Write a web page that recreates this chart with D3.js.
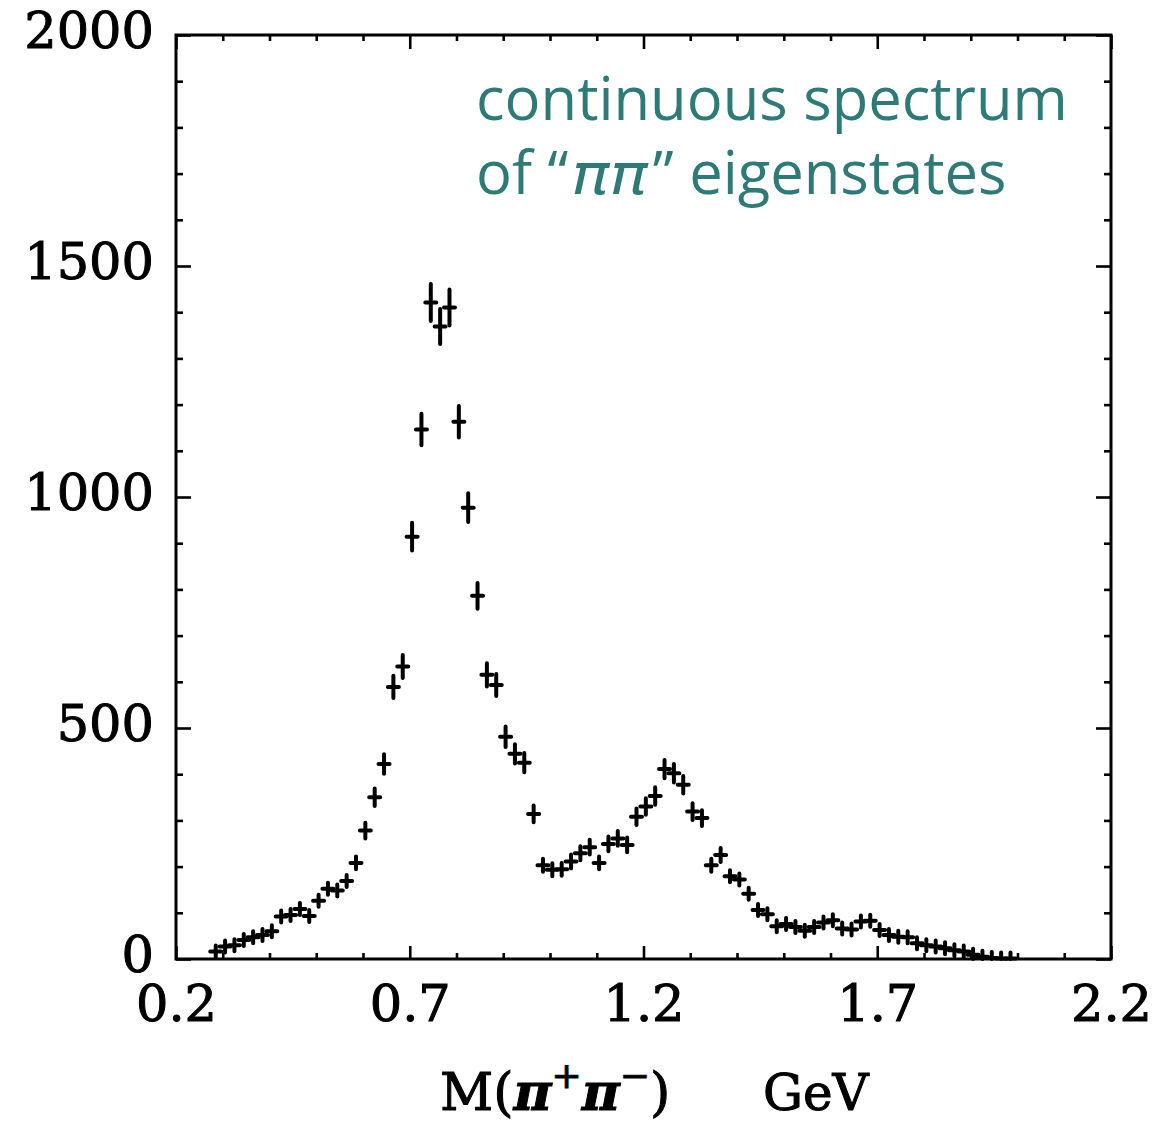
<!DOCTYPE html>
<html>
<head>
<meta charset="utf-8">
<script src="https://cdn.jsdelivr.net/npm/d3@7"></script>
<style>
  html, body { margin: 0; padding: 0; background: #fff; }
  svg { display: block; }
</style>
</head>
<body>
<svg id="chart" width="1171" height="1121"></svg>
<script>
// ---- data ----
const massBins = [0.285,0.305,0.325,0.345,0.365,0.385,0.405,0.425,0.445,0.465,0.485,0.505,0.525,0.545,0.565,0.585,
  0.605,0.625,0.645,0.665,0.685,0.705,0.725,0.745,0.765,0.785,0.805,0.825,0.845,0.865,0.885,0.905,0.925,0.945,0.965,0.985,
  1.005,1.025,1.045,1.065,1.085,1.105,1.125,1.145,1.165,1.185,1.205,1.225,1.245,1.265,1.285,1.305,1.325,1.345,1.365,1.385,
  1.405,1.425,1.445,1.465,1.485,1.505,1.525,1.545,1.565,1.585,1.605,1.625,1.645,1.665,1.685,1.705,1.725,1.745,1.765,1.785,
  1.805,1.825,1.845,1.865,1.885,1.905,1.925,1.945,1.965,1.985];
const counts = [16,27,30,41,47,52,60,92,95,108,93,126,152,148,169,208,
  278,350,422,589,633,914,1146,1421,1369,1410,1163,977,786,615,593,481,444,425,314,203,
  193,194,211,229,242,208,249,261,247,308,330,353,411,402,377,319,305,203,225,179,
  172,141,106,97,71,76,69,61,69,79,84,66,64,81,83,63,52,48,47,34,
  30,27,23,19,16,9,5,2,1,1];
const errors = [4,5,5,6,7,7,8,10,10,10,10,11,12,12,13,14,
  17,19,21,24,25,30,34,40,38,39,34,31,28,25,24,22,21,21,18,14,
  14,14,15,15,16,14,16,16,16,18,18,19,20,20,19,18,17,14,15,13,
  13,12,10,10,8,9,8,8,8,9,9,8,8,9,9,8,7,7,7,6,
  5,5,5,4,4,3,2,1,1,1];
const xTickValues = [0.2,0.7,1.2,1.7,2.2];
const xTickLabels = ["0.2","0.7","1.2","1.7","2.2"];
const xMinorTicks = [0.3,0.4,0.5,0.6,0.8,0.9,1.0,1.1,1.3,1.4,1.5,1.6,1.8,1.9,2.0,2.1];
const yTickValues = [0,500,1000,1500,2000];
const yTickLabels = ["0","500","1000","1500","2000"];
const yMinorTicks = [100,200,300,400,600,700,800,900,1100,1200,1300,1400,1600,1700,1800,1900];

// ---- layout ----
const svg = d3.select("#chart");
const L = 176, R = 1111, T = 35, B = 959;
const x = d3.scaleLinear().domain([0.2, 2.2]).range([L, R]);
const y = d3.scaleLinear().domain([0, 2000]).range([B, T]);
const serif = "'DejaVu Serif', serif";

svg.append("rect").attr("width",1171).attr("height",1121).attr("fill","#fff");

function styleAxis(g){
  g.select(".domain").remove();
  g.selectAll(".tick line").attr("stroke","#000").attr("stroke-width",2.6);
  g.selectAll(".tick text").attr("font-family",serif).attr("font-size",51).attr("fill","#000")
    .attr("stroke","#000").attr("stroke-width",1);
}

// bottom
svg.append("g").attr("transform",`translate(0,${B})`)
  .call(d3.axisBottom(x).tickValues(xTickValues).tickSize(-13).tickPadding(26)
    .tickFormat((d,i)=>xTickLabels[i])).call(styleAxis);
svg.append("g").attr("transform",`translate(0,${B})`)
  .call(d3.axisBottom(x).tickValues(xMinorTicks).tickSize(-6).tickFormat("")).call(styleAxis);
// top
svg.append("g").attr("transform",`translate(0,${T})`)
  .call(d3.axisTop(x).tickValues(xTickValues).tickSize(-14).tickFormat("")).call(styleAxis);
svg.append("g").attr("transform",`translate(0,${T})`)
  .call(d3.axisTop(x).tickValues(xMinorTicks).tickSize(-6).tickFormat("")).call(styleAxis);
// left
const yAx = svg.append("g").attr("transform",`translate(${L},0)`)
  .call(d3.axisLeft(y).tickValues(yTickValues).tickSize(-15).tickPadding(22)
    .tickFormat((d,i)=>yTickLabels[i])).call(styleAxis);
yAx.selectAll(".tick text").attr("dy","0.24em");
svg.append("g").attr("transform",`translate(${L},0)`)
  .call(d3.axisLeft(y).tickValues(yMinorTicks).tickSize(-7).tickFormat("")).call(styleAxis);
// right
svg.append("g").attr("transform",`translate(${R},0)`)
  .call(d3.axisRight(y).tickValues(yTickValues).tickSize(-15).tickFormat("")).call(styleAxis);
svg.append("g").attr("transform",`translate(${R},0)`)
  .call(d3.axisRight(y).tickValues(yMinorTicks).tickSize(-7).tickFormat("")).call(styleAxis);

// frame
svg.append("rect").attr("x",L).attr("y",T).attr("width",R-L).attr("height",B-T)
  .attr("fill","none").attr("stroke","#000").attr("stroke-width",3);

// ---- data points ----
const pts = massBins.map((m,i)=>({m, c:counts[i], e:errors[i]}));
const g = svg.append("g").attr("stroke","#000").attr("stroke-linecap","round");
g.selectAll("path.pt").data(pts).join("path").attr("class","pt")
  .attr("fill","none").attr("stroke-width",4)
  .attr("d", d=>{
    const cx = x(d.m), cy = y(d.c);
    const top = Math.min(y(d.c + d.e), cy - 6);
    const bot = Math.min(Math.max(y(d.c - d.e), cy + 6), B);
    return `M${cx-5.5},${cy}H${cx+5.5}M${cx},${top}V${bot}`;
  });

// ---- axis title ----
const xt = svg.append("text").attr("font-family",serif).attr("font-size",52).attr("fill","#000")
  .attr("stroke","#000").attr("stroke-width",1).attr("y",1110);
xt.append("tspan").attr("x",440).text("M(");
xt.append("tspan").attr("font-style","italic").attr("font-weight","bold").text("π");
xt.append("tspan").attr("font-size",36).attr("dy",-22).text("+");
xt.append("tspan").attr("font-style","italic").attr("font-weight","bold").attr("dy",22).text("π");
xt.append("tspan").attr("font-size",36).attr("dy",-22).text("−");
xt.append("tspan").attr("dy",22).text(")");
svg.append("text").attr("font-family",serif).attr("font-size",50).attr("fill","#000")
  .attr("stroke","#000").attr("stroke-width",1).attr("x",763).attr("y",1110).text("GeV");

// ---- annotation ----
const teal = "#2e7a76";
const sans = "'Open Sans', sans-serif";
const a1 = svg.append("text").attr("x",476).attr("y",120).attr("font-family",sans)
  .attr("font-size",60).attr("fill",teal).text("continuous spectrum");
const len = a1.node().getComputedTextLength();
const fs = 60 * 592 / len;
a1.attr("font-size",fs);
const y2 = 194;
const t1 = svg.append("text").attr("x",476).attr("y",y2).attr("font-family",sans)
  .attr("font-size",fs).attr("fill",teal).text("of “");
const w1 = t1.node().getComputedTextLength();
const t3 = svg.append("text").attr("y",y2).attr("font-family",sans)
  .attr("font-size",fs).attr("fill",teal).text("” eigenstates");
const w3 = t3.node().getComputedTextLength();
const tp = svg.append("text").attr("x",0).attr("y",0).attr("font-family","'DejaVu Sans', sans-serif")
  .attr("font-style","oblique").attr("font-size",fs * 0.95).attr("fill",teal).text("ππ");
const wp = tp.node().getComputedTextLength();
const need = 566 - w1 - w3 - 8;
const sx = Math.max(1, Math.min(1.12, need / wp));
tp.attr("transform",`translate(${476 + w1 + 3},${y2}) scale(${sx},1)`);
t3.attr("x", 476 + w1 + 3 + wp * sx + 5);
</script>
</body>
</html>
